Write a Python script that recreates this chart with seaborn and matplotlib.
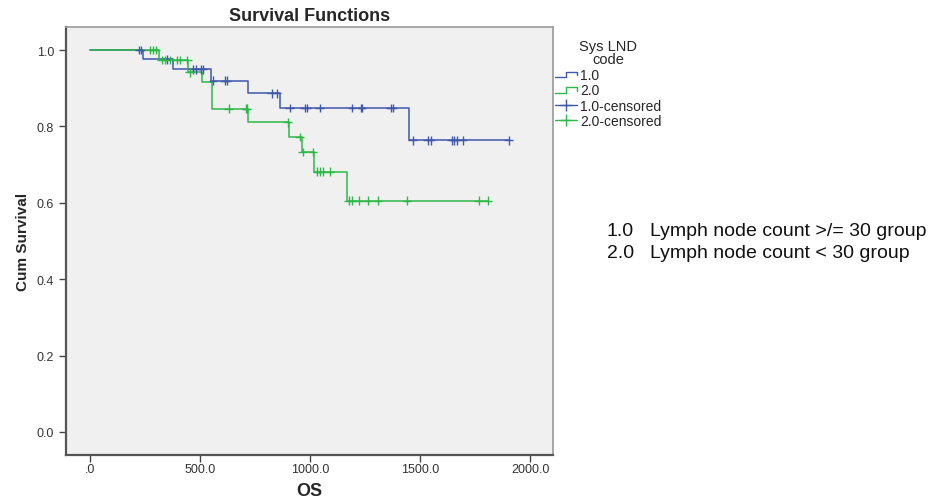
import matplotlib
matplotlib.use('Agg')

import numpy as np
import pandas as pd
import seaborn as sns
import matplotlib.pyplot as plt
from matplotlib.lines import Line2D
from matplotlib.legend_handler import HandlerBase

# group 1.0 : Lymph node count >= 30
event_t1 = [239, 375, 548, 716, 861, 1448]
surv_1 = [0.976, 0.950, 0.920, 0.887, 0.848, 0.764]
cens_1 = [222, 230, 348, 466, 480, 502, 511, 557, 611, 620, 825, 848, 907, 975,
          984, 1043, 1189, 1230, 1235, 1366, 1375, 1466, 1534, 1548, 1643, 1652,
          1666, 1693, 1902]

# group 2.0 : Lymph node count < 30
event_t2 = [311, 443, 507, 552, 716, 902, 961, 1016, 1166]
surv_2 = [0.974, 0.942, 0.916, 0.846, 0.811, 0.772, 0.733, 0.681, 0.605]
cens_2 = [270, 285, 298, 325, 339, 361, 393, 407, 440, 452, 629, 707, 712, 897,
          952, 966, 1011, 1030, 1043, 1057, 1089, 1175, 1189, 1220, 1261, 1307,
          1439, 1766, 1807]

groups = ['1.0', '2.0']
colors = {'1.0': '#3E58AC', '2.0': '#2EB848'}

x_ticks = [0, 500, 1000, 1500, 2000]
x_tick_labels = ['.0', '500.0', '1000.0', '1500.0', '2000.0']
y_ticks = [0.0, 0.2, 0.4, 0.6, 0.8, 1.0]


def step_frame(name, times, surv, cens):
    t = [0] + list(times) + [max(cens)]
    s = [1.0] + list(surv) + [surv[-1]]
    return pd.DataFrame({'time': t, 'surv': s, 'group': name})


def cens_frame(name, times, surv, cens):
    t = np.array(times)
    s = np.array([1.0] + list(surv))
    idx = np.searchsorted(t, np.array(cens), side='right')
    return pd.DataFrame({'time': cens, 'surv': s[idx], 'group': name})


class StepHandler(HandlerBase):
    def create_artists(self, legend, orig_handle, xdescent, ydescent,
                       width, height, fontsize, trans):
        x = np.array([0, 0.5, 0.5, 1.0, 1.0]) * width - xdescent
        y = np.array([0.15, 0.15, 0.75, 0.75, 0.35]) * height - ydescent
        ln = Line2D(x, y, color=orig_handle.get_color(), lw=1)
        ln.set_transform(trans)
        return [ln]


sns.set_theme(style='white')
plt.rcParams['font.family'] = ['Liberation Sans', 'DejaVu Sans']

steps = pd.concat([step_frame('1.0', event_t1, surv_1, cens_1),
                   step_frame('2.0', event_t2, surv_2, cens_2)])
cens = pd.concat([cens_frame('1.0', event_t1, surv_1, cens_1),
                  cens_frame('2.0', event_t2, surv_2, cens_2)])

fig = plt.figure(figsize=(9.29, 5.02), dpi=100)
ax = fig.add_axes([0.071, 0.092, 0.524, 0.852])
ax.set_facecolor('#F0F0F0')

for g in groups:
    sub = steps[steps.group == g]
    sns.lineplot(data=sub, x='time', y='surv', color=colors[g], drawstyle='steps-post',
                 estimator=None, sort=False, lw=1.1, ax=ax, legend=False)
sns.scatterplot(data=cens, x='time', y='surv', hue='group', palette=colors,
                marker='+', s=40, linewidth=1, ax=ax, legend=False, zorder=3)

ax.set_xlim(-111, 2102)
ax.set_ylim(-0.06, 1.06)
ax.set_xticks(x_ticks)
ax.set_xticklabels(x_tick_labels)
ax.set_yticks(y_ticks)
ax.set_yticklabels(['%.1f' % v for v in y_ticks])
ax.tick_params(axis='both', which='both', direction='out', length=5, width=1,
               color='#444444', labelsize=9, labelcolor='#333333', left=True, bottom=True)
ax.tick_params(axis='x', pad=1)

for side in ['left', 'bottom']:
    ax.spines[side].set_color('#555555')
    ax.spines[side].set_linewidth(1.6)
for side in ['top', 'right']:
    ax.spines[side].set_color('#999999')
    ax.spines[side].set_linewidth(1.2)

ax.set_title('Survival Functions', fontsize=13, fontweight='bold', pad=5)
ax.set_xlabel('OS', fontsize=13, fontweight='bold', labelpad=5)
ax.set_ylabel('Cum Survival', fontsize=11, fontweight='bold', labelpad=5)

handles = [Line2D([], [], color=colors['1.0']),
           Line2D([], [], color=colors['2.0']),
           Line2D([0], [0], color=colors['1.0'], marker='+', markersize=8, lw=1),
           Line2D([0], [0], color=colors['2.0'], marker='+', markersize=8, lw=1)]
labels = ['1.0', '2.0', '1.0-censored', '2.0-censored']
leg = fig.legend(handles, labels, title='Sys LND\ncode', loc='upper left',
                 bbox_to_anchor=(555 / 929, 1 - 40 / 502), frameon=False,
                 borderaxespad=0, borderpad=0,
                 fontsize=10, title_fontsize=10.5, handlelength=1.6,
                 handletextpad=0.2, labelspacing=0.1,
                 handler_map={handles[0]: StepHandler(), handles[1]: StepHandler()})
leg.get_title().set_multialignment('center')
leg.get_title().set_linespacing(0.95)

fig.text(607 / 929, 1 - 231 / 502, '1.0', fontsize=14, va='center', color='#111111')
fig.text(650 / 929, 1 - 231 / 502, 'Lymph node count >/= 30 group', fontsize=14,
         va='center', color='#111111')
fig.text(607 / 929, 1 - 253 / 502, '2.0', fontsize=14, va='center', color='#111111')
fig.text(650 / 929, 1 - 253 / 502, 'Lymph node count < 30 group', fontsize=14,
         va='center', color='#111111')

fig.savefig('out.png', dpi=100)
